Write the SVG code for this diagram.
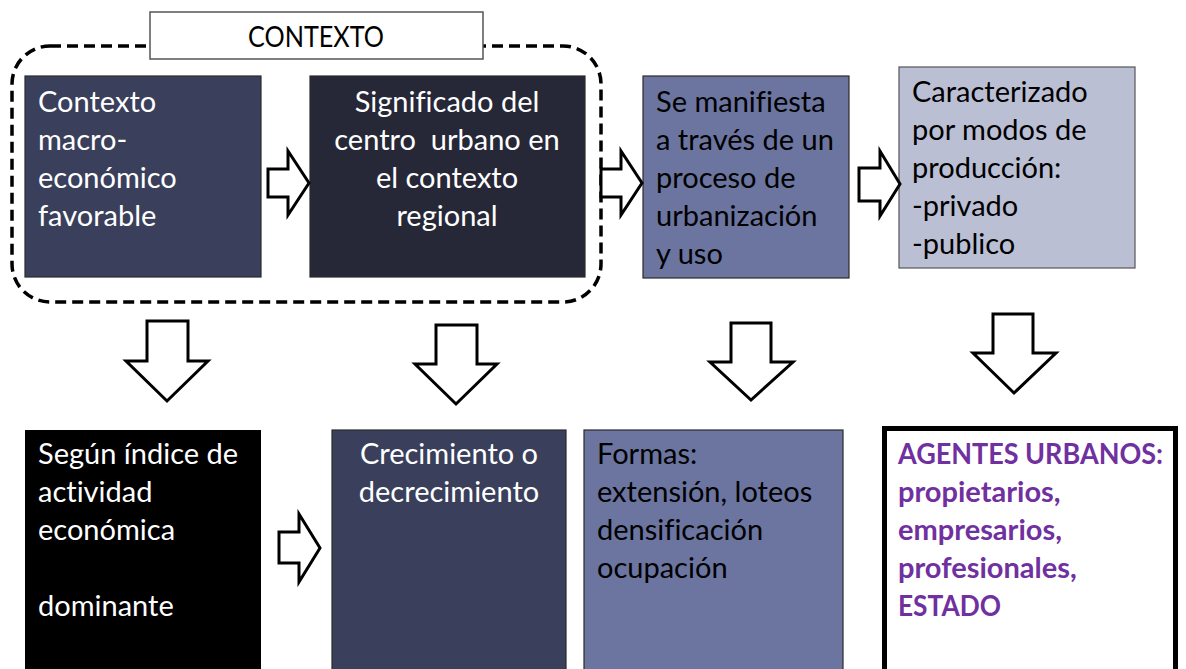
<svg xmlns="http://www.w3.org/2000/svg" width="1186" height="669" viewBox="0 0 1186 669">
<style>
text{font-family:Lato,"Open Sans","Liberation Sans",sans-serif;font-size:29px;font-variant-ligatures:none}
.w{fill:#ffffff}
.k{fill:#000000}
.c{text-anchor:middle}
.p{fill:#7030a0;font-weight:bold}
.box{stroke:#2a2a2a;stroke-width:1.2}
.arr{fill:#ffffff;stroke:#000000;stroke-width:3;stroke-linejoin:miter}
</style>
<rect x="0" y="0" width="1186" height="669" fill="#ffffff"/>
<g id="contexto-frame">
<rect x="12" y="46" width="589" height="256" rx="38" ry="38" fill="none" stroke="#000" stroke-width="3.5" stroke-dasharray="11,6"/>
<rect x="150" y="12" width="333" height="47" fill="#ffffff" stroke="#555" stroke-width="1.5"/>
<text x="316" y="47" class="k c" style="font-size:28px" textLength="136" lengthAdjust="spacingAndGlyphs">CONTEXTO</text>
</g>
<g id="n1">
<rect class="box" x="25" y="76" width="236" height="201" fill="#3a3f5c"/>
<text class="w" x="38" y="112">Contexto</text>
<text class="w" x="38" y="150">macro-</text>
<text class="w" x="38" y="188">económico</text>
<text class="w" x="38" y="226">favorable</text>
</g>
<g id="n2">
<rect class="box" x="310" y="76" width="275" height="201" fill="#262838"/>
<text class="w c" x="447" y="112">Significado del</text>
<text class="w c" x="447" y="150" xml:space="preserve">centro  urbano en</text>
<text class="w c" x="447" y="188">el contexto</text>
<text class="w c" x="447" y="226">regional</text>
</g>
<g id="n3">
<rect class="box" x="643" y="76" width="206" height="202" fill="#6b75a0"/>
<text class="k" x="656" y="112">Se manifiesta</text>
<text class="k" x="656" y="150">a través de un</text>
<text class="k" x="656" y="188">proceso de</text>
<text class="k" x="656" y="226">urbanización</text>
<text class="k" x="656" y="264">y uso</text>
</g>
<g id="n4">
<rect x="899" y="67" width="236" height="201" fill="#bbbfd4" stroke="#555" stroke-width="1.2"/>
<text class="k" x="912" y="102">Caracterizado</text>
<text class="k" x="912" y="140">por modos de</text>
<text class="k" x="912" y="178">producción:</text>
<text class="k" x="912" y="216">-privado</text>
<text class="k" x="912" y="254">-publico</text>
</g>
<g id="n5">
<rect x="25" y="430" width="236" height="245" fill="#000000"/>
<text class="w" x="38" y="464">Según índice de</text>
<text class="w" x="38" y="502">actividad</text>
<text class="w" x="38" y="540">económica</text>
<text class="w" x="38" y="616">dominante</text>
</g>
<g id="n6">
<rect class="box" x="332" y="430" width="234" height="245" fill="#3a3f5c"/>
<text class="w c" x="449" y="464">Crecimiento o</text>
<text class="w c" x="449" y="502">decrecimiento</text>
</g>
<g id="n7">
<rect class="box" x="584" y="430" width="259" height="245" fill="#6b75a0"/>
<text class="k" x="597" y="464">Formas:</text>
<text class="k" x="597" y="502">extensión, loteos</text>
<text class="k" x="597" y="540">densificación</text>
<text class="k" x="597" y="578">ocupación</text>
</g>
<g id="n8">
<rect x="884.5" y="428.5" width="291" height="250" fill="#ffffff" stroke="#000" stroke-width="5"/>
<text class="p" x="898" y="464" textLength="265" lengthAdjust="spacingAndGlyphs">AGENTES URBANOS:</text>
<text class="p" x="898" y="502">propietarios,</text>
<text class="p" x="898" y="540">empresarios,</text>
<text class="p" x="898" y="578">profesionales,</text>
<text class="p" x="898" y="616" textLength="103" lengthAdjust="spacingAndGlyphs">ESTADO</text>
</g>
<g id="connectors">
<polygon class="arr" points="268,169 288,169 288,151 309,183 288,215 288,197 268,197"/>
<polygon class="arr" points="601,169 621,169 621,151 642,183 621,215 621,197 601,197"/>
<polygon class="arr" points="859,168 880,168 880,151 900,184 880,216 880,201 859,201"/>
<polygon class="arr" points="279,532 299,532 299,514 320,548 299,582 299,563 279,563"/>
<polygon class="arr" points="147,321 188,321 188,361 208,361 167,401 126,361 147,361"/>
<polygon class="arr" points="436,325 477,325 477,364 497,364 456,404 415,364 436,364"/>
<polygon class="arr" points="731,323 771,323 771,362 793,362 751,400 710,362 731,362"/>
<polygon class="arr" points="993,314 1033,314 1033,353 1056,353 1014,393 973,353 993,353"/>
</g>
</svg>
